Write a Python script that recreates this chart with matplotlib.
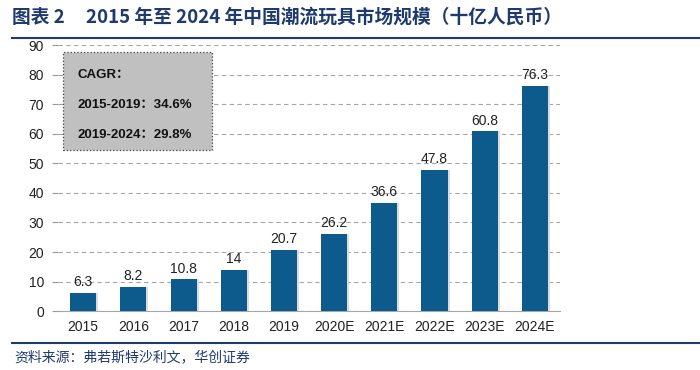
import matplotlib.pyplot as plt
from matplotlib.patches import Rectangle
from matplotlib.lines import Line2D
import numpy as np

plt.rcParams['font.family'] = ['Liberation Sans', 'Noto Sans CJK SC', 'DejaVu Sans']

# DATA
years = ['2015', '2016', '2017', '2018', '2019', '2020E', '2021E', '2022E', '2023E', '2024E']
values = [6.3, 8.2, 10.8, 14, 20.7, 26.2, 36.6, 47.8, 60.8, 76.3]
value_labels = ['6.3', '8.2', '10.8', '14', '20.7', '26.2', '36.6', '47.8', '60.8', '76.3']
y_ticks = [0, 10, 20, 30, 40, 50, 60, 70, 80, 90]
cagr_lines = ['CAGR：', '2015-2019：34.6%', '2019-2024：29.8%']
title = '图表 2     2015 年至 2024 年中国潮流玩具市场规模（十亿人民币）'
source = '资料来源：弗若斯特沙利文，华创证券'

bar_color = '#0D5A8C'
navy = '#1F3A6E'

fig = plt.figure(figsize=(7, 3.7), dpi=100)
ax = fig.add_axes([0.083, 0.159, 0.717, 0.719])

x = np.arange(len(years))
# soft shadow
ax.bar(x + 0.04, values, width=0.52, color='#dcdcdc', zorder=2)
ax.bar(x, values, width=0.52, color=bar_color, zorder=3)
for xi, v, lab in zip(x, values, value_labels):
    ax.text(xi, v + 1.2, lab, ha='center', va='bottom', fontsize=10, color='#222222', zorder=4)

ax.set_xlim(-0.5, len(years) - 0.5)
ax.set_ylim(0, 90)
ax.set_yticks(y_ticks)
ax.set_xticks(x)
ax.set_xticklabels(years)
ax.tick_params(axis='both', labelsize=10, colors='#222222', length=0, pad=6)
ax.tick_params(axis='y', length=4, color='#999999', direction='out')
ax.yaxis.grid(True, linestyle=(0, (4, 3)), color='#a6a6a6', linewidth=0.8, zorder=0)
for s in ['top', 'right', 'left']:
    ax.spines[s].set_visible(False)
ax.spines['bottom'].set_color('#a6a6a6')

# CAGR box
box = Rectangle((63 / 700, 1 - 150 / 370), 149 / 700, 98 / 370, transform=fig.transFigure,
                facecolor='#c0c0c0', edgecolor='#444444', linestyle=':', linewidth=0.9, zorder=5)
fig.add_artist(box)
for i, line in enumerate(cagr_lines):
    fig.text(78 / 700, 1 - (75 + i * 30) / 370, line, fontsize=9.5, fontweight='bold',
             color='#111111', va='center', ha='left', zorder=6)

# title and rules
fig.text(12 / 700, 1 - 17 / 370, title, fontsize=13.5, fontweight='bold', color=navy,
         va='center', ha='left', family=['Noto Sans CJK SC', 'DejaVu Sans'])
fig.add_artist(Line2D([12 / 700, 1], [1 - 38 / 370, 1 - 38 / 370], color=navy, linewidth=1.5,
                      transform=fig.transFigure))
fig.add_artist(Line2D([12 / 700, 1], [1 - 343 / 370, 1 - 343 / 370], color=navy, linewidth=1.5,
                      transform=fig.transFigure))
fig.text(14 / 700, 1 - 357 / 370, source, fontsize=10, style='italic', color=navy,
         va='center', ha='left', family=['Noto Sans CJK SC', 'DejaVu Sans'])

fig.savefig('out.png', dpi=100)
